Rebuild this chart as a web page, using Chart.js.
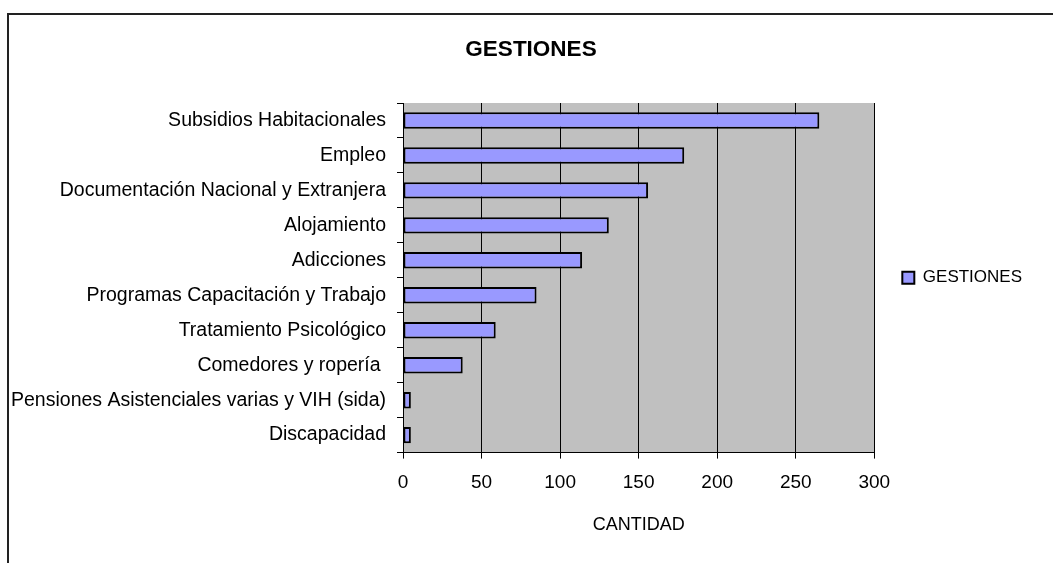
<!DOCTYPE html>
<html>
<head>
<meta charset="utf-8">
<script src="https://cdn.jsdelivr.net/npm/chart.js@4/dist/chart.umd.min.js"></script>
<style>
    html, body { margin: 0; padding: 0; background: #fff; overflow: hidden; }
    #frame { position: absolute; left: 7px; top: 13px; width: 1200px; height: 700px; border: 2px solid #222; }
    #wrap { position: absolute; left: 0; top: 0; width: 1053px; height: 563px; }
</style>
</head>
<body>
<div id="frame"></div>
<div id="wrap"><canvas id="chart"></canvas></div>
<script>
// данные
const categories = [
    "Subsidios Habitacionales",
    "Empleo",
    "Documentación Nacional y Extranjera",
    "Alojamiento",
    "Adicciones",
    "Programas Capacitación y Trabajo",
    "Tratamiento Psicológico",
    "Comedores y ropería ",
    "Pensiones Asistenciales varias y VIH (sida)",
    "Discapacidad"
];
const gestiones = [265, 179, 156, 131, 114, 85, 59, 38, 5, 5];
const xTicks = [0, 50, 100, 150, 200, 250, 300];

const fontFamily = "'Liberation Sans', Arial, sans-serif";

// серый фон области графика
const plotBackground = {
    id: "plotBackground",
    beforeDraw(chart) {
        const { ctx, chartArea } = chart;
        ctx.save();
        ctx.fillStyle = "#c0c0c0";
        ctx.fillRect(chartArea.left, chartArea.top, chartArea.right - chartArea.left, chartArea.bottom - chartArea.top);
        ctx.restore();
    }
};

// длинные подписи оси y не обрезаются
const wideLabels = {
    id: "wideLabels",
    afterLayout(chart) {
        chart.scales.y.left = 0;
    }
};

function createChartConfig() {
    let config = {
        type: "bar",
        data: {
            labels: categories,
            datasets: [
                {
                    label: "GESTIONES",
                    data: gestiones,
                    backgroundColor: "#9999ff",
                    borderColor: "#000000",
                    borderWidth: 2,
                    borderSkipped: false,
                    barPercentage: 0.47,
                    categoryPercentage: 1
                }
            ]
        },
        options: {
            indexAxis: "y",
            responsive: false,
            animation: false,
            layout: {
                padding: { top: 36, bottom: 27, left: 30, right: 21 }
            },
            plugins: {
                title: {
                    display: true,
                    text: "GESTIONES",
                    color: "#000",
                    font: { family: fontFamily, size: 22.5, weight: "bold" },
                    padding: { top: 0, bottom: 40 }
                },
                legend: {
                    position: "right",
                    fullSize: false,
                    labels: {
                        color: "#000",
                        font: { family: fontFamily, size: 17 },
                        boxWidth: 12,
                        boxHeight: 12,
                        padding: 28
                    }
                },
                tooltip: { enabled: false }
            },
            scales: {
                x: {
                    min: 0,
                    max: 300,
                    afterBuildTicks: (scale) => {
                        scale.ticks = xTicks.map((v) => ({ value: v }));
                    },
                    grid: {
                        color: "#000",
                        lineWidth: 1,
                        tickLength: 6
                    },
                    border: { color: "#000", width: 1 },
                    ticks: {
                        color: "#000",
                        padding: 13,
                        font: { family: fontFamily, size: 19 }
                    },
                    title: {
                        display: true,
                        text: "CANTIDAD",
                        color: "#000",
                        font: { family: fontFamily, size: 18 },
                        padding: { top: 7, bottom: 0 }
                    }
                },
                y: {
                    afterFit: (scale) => {
                        scale.width = 373;
                    },
                    grid: {
                        drawOnChartArea: false,
                        color: "#000",
                        tickLength: 6
                    },
                    border: { color: "#000", width: 1 },
                    ticks: {
                        color: "#000",
                        padding: 11,
                        font: { family: fontFamily, size: 19.5 }
                    }
                }
            }
        },
        plugins: [plotBackground, wideLabels]
    };
    return config;
}

function drawAChart(ctx, config) {
    const myChart = new Chart(ctx, config);
}

let canvas = document.getElementById("chart");
canvas.width = 1053;
canvas.height = 563;
drawAChart(canvas, createChartConfig());
</script>
</body>
</html>
